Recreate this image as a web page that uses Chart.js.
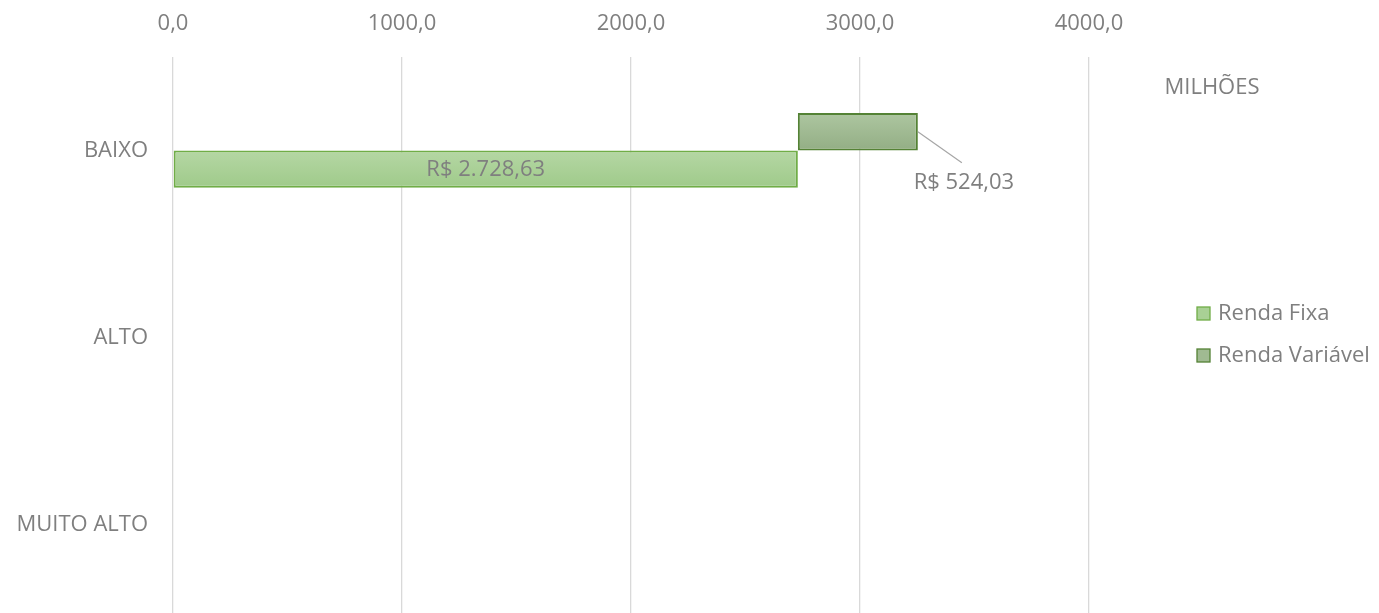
<!DOCTYPE html>
<html>
<head>
<meta charset="utf-8">
<script src="https://cdn.jsdelivr.net/npm/chart.js@4"></script>
<style>
  html, body { margin: 0; padding: 0; background: #fff; overflow: hidden; }
</style>
</head>
<body>
<canvas id="riscoChart" width="1379" height="631"></canvas>
<script>
const categorias = ['BAIXO', 'ALTO', 'MUITO ALTO'];
const rendaFixa = [2728.63, null, null];
const rendaVariavel = [524.03, null, null];
const eixoX = [0, 1000, 2000, 3000, 4000];

const txtColor = '#7f7f7f';
const fonte = "'Open Sans', sans-serif";
const tam = 22;

// variável começa onde a fixa termina
const variavelBarras = rendaVariavel.map((v, i) => v == null ? null : [rendaFixa[i], rendaFixa[i] + v]);

function brl(v) {
    let s = v.toFixed(2).split('.');
    let inteiro = s[0].replace(/\B(?=(\d{3})+(?!\d))/g, '.');
    return 'R$ ' + inteiro + ',' + s[1];
}

// gradiente vertical por barra; lado -1 = metade de cima, +1 = metade de baixo
function grad(c1, c2, lado) {
    return function(ctx) {
        const chart = ctx.chart;
        const y = chart.scales.y;
        if (!chart.chartArea || !y || ctx.dataIndex == null) return c2;
        const centro = y.getPixelForValue(ctx.dataIndex);
        const faixa = y.getPixelForValue(1) - y.getPixelForValue(0);
        const h = faixa * 0.2;
        const y0 = lado < 0 ? centro - h : centro;
        const g = chart.ctx.createLinearGradient(0, y0, 0, y0 + h);
        g.addColorStop(0, c1);
        g.addColorStop(1, c2);
        return g;
    };
}

const extras = {
    id: 'extras',
    afterDatasetsDraw(chart) {
        const c = chart.ctx;
        const area = chart.chartArea;
        c.save();
        c.font = tam + 'px ' + fonte;
        c.fillStyle = txtColor;
        c.textBaseline = 'middle';

        // rótulos renda fixa (dataset 1) centralizados
        chart.getDatasetMeta(1).data.forEach((bar, i) => {
            if (rendaFixa[i] == null) return;
            c.textAlign = 'center';
            c.fillText(brl(rendaFixa[i]), (bar.x + bar.base) / 2, bar.y + 1);
        });

        // rótulos renda variável com linha guia
        chart.getDatasetMeta(0).data.forEach((bar, i) => {
            if (rendaVariavel[i] == null) return;
            c.strokeStyle = '#a6a6a6';
            c.lineWidth = 1.2;
            c.beginPath();
            c.moveTo(bar.x, bar.y);
            c.lineTo(bar.x + 44, bar.y + 31);
            c.stroke();
            c.textAlign = 'center';
            c.fillText(brl(rendaVariavel[i]), bar.x + 46, bar.y + 51);
        });

        // unidade
        c.textAlign = 'center';
        c.fillText('MILHÕES', area.right + 123, area.top + 31);

        // legenda
        const itens = [
            { t: 'Renda Fixa', f: '#a9d095', b: '#70ad47' },
            { t: 'Renda Variável', f: '#a0ba92', b: '#548235' }
        ];
        itens.forEach((it, k) => {
            const y = area.top + 257 + k * 42;
            c.fillStyle = it.f;
            c.fillRect(area.right + 108, y - 7, 13, 13);
            c.strokeStyle = it.b;
            c.lineWidth = 1.3;
            c.strokeRect(area.right + 108, y - 7, 13, 13);
            c.fillStyle = txtColor;
            c.textAlign = 'left';
            c.fillText(it.t, area.right + 129, y);
        });
        c.restore();
    }
};

new Chart(document.getElementById('riscoChart'), {
    type: 'bar',
    data: {
        labels: categorias,
        datasets: [
            {
                label: 'Renda Variável',
                data: variavelBarras,
                backgroundColor: grad('#adc6a0', '#93ae85', -1),
                borderColor: '#548235',
                borderWidth: 2,
                borderSkipped: false
            },
            {
                label: 'Renda Fixa',
                data: rendaFixa,
                backgroundColor: grad('#b5d7a4', '#9fca8a', 1),
                borderColor: '#70ad47',
                borderWidth: 2,
                borderSkipped: false
            }
        ]
    },
    plugins: [extras],
    options: {
        indexAxis: 'y',
        responsive: false,
        animation: false,
        layout: { padding: { top: 0, left: 0, right: 290, bottom: 0 } },
        datasets: { bar: { categoryPercentage: 0.4, barPercentage: 1.0 } },
        plugins: {
            legend: { display: false },
            tooltip: { enabled: false }
        },
        scales: {
            x: {
                position: 'top',
                min: eixoX[0],
                max: eixoX[eixoX.length - 1],
                afterBuildTicks: (s) => { s.ticks = eixoX.map(v => ({ value: v })); },
                afterFit: (s) => { s.height = 57; },
                grid: { color: '#d9d9d9', lineWidth: 1.3, drawTicks: false },
                border: { display: false },
                ticks: {
                    color: txtColor,
                    font: { family: fonte, size: tam },
                    padding: 20,
                    callback: (v) => v.toFixed(1).replace('.', ',')
                }
            },
            y: {
                afterFit: (s) => { s.width = 173; },
                grid: { display: false, drawTicks: true, tickLength: 25 },
                border: { display: false },
                ticks: {
                    color: txtColor,
                    font: { family: fonte, size: tam },
                    padding: 0
                }
            }
        }
    }
});
</script>
</body>
</html>
